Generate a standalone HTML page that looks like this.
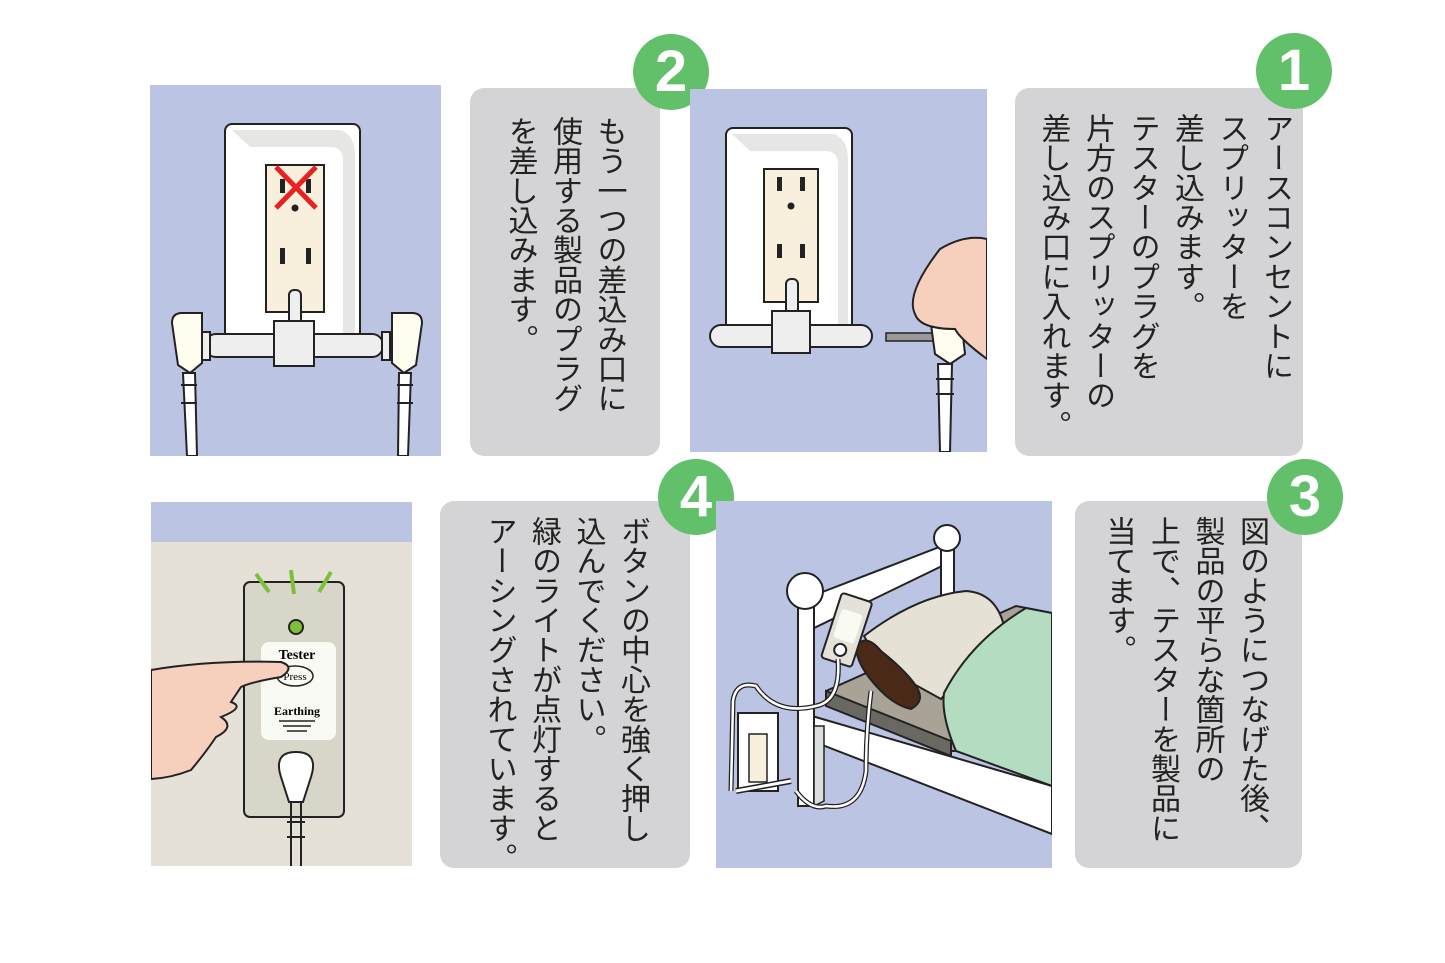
<!DOCTYPE html>
<html><head><meta charset="utf-8"><style>
body{margin:0;width:1445px;height:963px;background:#fff;position:relative;overflow:hidden;font-family:"Liberation Sans","Noto Sans CJK JP",sans-serif}
.box{position:absolute;background:#d4d4d6;border-radius:14px}
.t{position:absolute;writing-mode:vertical-rl;font-size:30px;line-height:44.5px;color:#222;white-space:nowrap;letter-spacing:-0.3px}
.c{position:absolute;width:76px;height:76px;border-radius:50%;background:#62bf6a;color:#fff;font:bold 58px/76px "Liberation Sans",sans-serif;text-align:center}
svg{position:absolute}
</style></head><body>

<!-- Panel 2 image (top-left) -->
<svg style="left:150px;top:85px" width="291" height="371" viewBox="0 0 291 371">
<rect width="291" height="371" fill="#bcc4e4"/>
<rect x="75" y="39" width="135" height="215" rx="7" fill="#fff" stroke="#222" stroke-width="2"/>
<path d="M82 45 L190 45 Q205 50 205 70 L205 250 L193 250 L193 75 Q193 62 180 62 L100 62Z" fill="#e6e6e4"/>
<rect x="116" y="80" width="58" height="147" fill="#f8f0dd" stroke="#222" stroke-width="2"/>
<rect x="130" y="94" width="5" height="14" fill="#222"/><rect x="156" y="94" width="5" height="14" fill="#222"/>
<circle cx="145" cy="123" r="3.5" fill="#222"/>
<rect x="130" y="163" width="5" height="16" fill="#222"/><rect x="156" y="163" width="5" height="16" fill="#222"/>
<path d="M126 82 L166 123 M166 82 L126 123" stroke="#e82020" stroke-width="5"/>
<rect x="139" y="205" width="12" height="35" rx="5" fill="#eee" stroke="#222" stroke-width="2"/>
<rect x="55" y="249" width="178" height="23" rx="11" fill="#eee" stroke="#222" stroke-width="2"/>
<rect x="124" y="236" width="40" height="45" fill="#eee" stroke="#222" stroke-width="2"/>
<rect x="52" y="247" width="8" height="28" fill="#eee" stroke="#222" stroke-width="2"/>
<rect x="232" y="247" width="8" height="28" fill="#eee" stroke="#222" stroke-width="2"/>
<path d="M22 238 Q22 228 32 228 L52 228 L52 278 L40 288 L28 280Z" fill="#fffdf0" stroke="#222" stroke-width="2"/>
<path d="M242 228 L262 228 Q272 228 272 238 L266 280 L254 288 L242 278Z" fill="#fffdf0" stroke="#222" stroke-width="2"/>
<path d="M33 288 L45 288 L47 371 L37 371Z M249 288 L261 288 L258 371 L248 371Z" fill="#fff" stroke="#222" stroke-width="2"/>
<path d="M31 300 H47 M31 318 H47 M247 300 H263 M247 318 H263" stroke="#222" stroke-width="2"/>
</svg>

<div class="box" style="left:470px;top:88px;width:190px;height:368px"></div>
<div class="t" style="left:497px;top:116px;height:340px">もう一つの差込み口に<br>使用する製品のプラグ<br>を差し込みます。</div>
<div class="c" style="left:633px;top:34px">2</div>

<!-- Panel 1 image -->
<svg style="left:690px;top:89px" width="297" height="363" viewBox="0 0 297 363">
<rect width="297" height="363" fill="#bcc4e4"/>
<rect x="36" y="39" width="126" height="215" rx="7" fill="#fff" stroke="#222" stroke-width="2"/>
<path d="M42 45 L145 45 Q158 52 158 70 L158 250 L148 250 L148 75 Q148 62 135 62 L60 62Z" fill="#e6e6e4"/>
<rect x="74" y="80" width="54" height="133" fill="#f8f0dd" stroke="#222" stroke-width="2"/>
<rect x="87" y="88" width="5" height="14" fill="#222"/><rect x="110" y="88" width="5" height="14" fill="#222"/>
<circle cx="101" cy="117" r="3.5" fill="#222"/>
<rect x="87" y="155" width="5" height="14" fill="#222"/><rect x="110" y="155" width="5" height="14" fill="#222"/>
<rect x="96" y="190" width="12" height="35" rx="5" fill="#eee" stroke="#222" stroke-width="2"/>
<rect x="20" y="236" width="162" height="22" rx="11" fill="#eee" stroke="#222" stroke-width="2"/>
<rect x="82" y="222" width="38" height="42" fill="#eee" stroke="#222" stroke-width="2"/>
<rect x="196" y="244" width="50" height="8" fill="#999" stroke="#222" stroke-width="1.5"/>
<path d="M240 228 L270 220 L275 265 L260 275 L245 265Z" fill="#fffdf0" stroke="#222" stroke-width="2"/>
<path d="M225 225 Q215 205 250 160 Q275 145 297 150 L297 270 Q270 250 265 240 Q230 240 225 225Z" fill="#f6cfbd" stroke="#222" stroke-width="2"/>
<path d="M248 275 L262 275 L260 363 L250 363Z" fill="#fff" stroke="#222" stroke-width="2"/>
<path d="M246 290 H264 M246 305 H264" stroke="#222" stroke-width="2"/>
</svg>

<div class="box" style="left:1015px;top:88px;width:288px;height:368px"></div>
<div class="t" style="left:1030px;top:113px;height:340px">アースコンセントに<br>スプリッターを<br>差し込みます。<br>テスターのプラグを<br>片方のスプリッターの<br>差し込み口に入れます。</div>
<div class="c" style="left:1256px;top:33px">1</div>

<!-- Panel 4 image -->
<svg style="left:151px;top:502px" width="261" height="364" viewBox="0 0 261 364">
<rect width="261" height="364" fill="#e5e1d6"/>
<rect width="261" height="40" fill="#bcc4e4"/>
<rect x="93" y="80" width="100" height="235" rx="6" fill="#d8d6c8" stroke="#222" stroke-width="2"/>
<path d="M105 72 L118 90 M140 68 L143 92 M180 70 L168 90" stroke="#7cc03a" stroke-width="4"/>
<circle cx="145" cy="125" r="7" fill="#7cc03a" stroke="#222" stroke-width="2"/>
<rect x="110" y="140" width="75" height="98" rx="8" fill="#fafaf4"/>
<text x="146" y="157" font-family="Liberation Serif,serif" font-size="14" text-anchor="middle" font-weight="bold">Tester</text>
<ellipse cx="144" cy="174" rx="18" ry="10" fill="none" stroke="#222" stroke-width="1.5"/>
<text x="144" y="178" font-family="Liberation Serif,serif" font-size="11" text-anchor="middle">Press</text>
<text x="146" y="213" font-family="Liberation Serif,serif" font-size="12" text-anchor="middle" font-weight="bold">Earthing</text>
<path d="M128 219 H164 M132 224 H160 M136 229 H156" stroke="#222" stroke-width="1.5"/>
<path d="M130 275 Q122 250 145 250 Q168 250 160 275 L152 300 L138 300Z" fill="#fff" stroke="#222" stroke-width="2"/>
<path d="M140 300 L140 364 M150 300 L150 364 M136 320 H154 M136 335 H154" stroke="#222" stroke-width="2"/>
<path d="M0 168 Q60 158 130 160 Q145 165 130 175 Q100 180 90 185 L80 200 Q95 205 70 215 Q85 225 65 235 Q55 250 40 268 Q20 276 0 277Z" fill="#f6cfbd" stroke="#222" stroke-width="2"/>
</svg>

<div class="box" style="left:440px;top:501px;width:250px;height:367px"></div>
<div class="t" style="left:476px;top:516px;height:345px">ボタンの中心を強く押し<br>込んでください。<br>緑のライトが点灯すると<br>アーシングされています。</div>
<div class="c" style="left:658px;top:459px">4</div>

<!-- Panel 3 image -->
<svg style="left:716px;top:501px" width="336" height="367" viewBox="0 0 336 367">
<rect width="336" height="367" fill="#bcc4e4"/>
<!-- headboard -->
<path d="M96 95 L226 45 L226 65 L96 128Z" fill="#fff" stroke="#222" stroke-width="2"/>
<rect x="225" y="40" width="13" height="60" fill="#fff" stroke="#222" stroke-width="2"/>
<circle cx="231" cy="37" r="13" fill="#fff" stroke="#222" stroke-width="2"/>
<!-- mattress -->
<path d="M110 190 L300 105 L336 112 L336 250 L235 250 L110 200Z" fill="#a8a297" stroke="#222" stroke-width="2"/>
<path d="M110 190 L235 240 L235 255 L110 205Z" fill="#6a6863" stroke="#222" stroke-width="2"/>
<!-- bed side -->
<path d="M96 215 L336 285 L336 333 L96 240Z" fill="#fff" stroke="#222" stroke-width="2"/>
<!-- pillow -->
<path d="M148 135 Q200 95 250 90 Q280 92 288 125 L225 198 L165 165Z" fill="#e6e1d5" stroke="#222" stroke-width="2"/>
<!-- brown pad -->
<path d="M140 145 Q150 132 165 150 Q190 170 200 185 Q210 200 195 208 Q180 205 165 190 Q140 165 140 145Z" fill="#4a2a16" stroke="#222" stroke-width="2"/>
<!-- blanket -->
<path d="M310 107 L336 112 L336 285 L240 250 Q225 215 228 192 Q255 140 310 107Z" fill="#b3dcc0" stroke="#222" stroke-width="2"/>
<!-- left post -->
<rect x="82" y="100" width="16" height="205" fill="#fff" stroke="#222" stroke-width="2"/>
<path d="M98 225 L108 225 L108 300 L98 305Z" fill="#ddd" stroke="#222" stroke-width="1.5"/>
<circle cx="89" cy="90" r="18" fill="#fff" stroke="#222" stroke-width="2"/>
<!-- tester -->
<g transform="rotate(18 131 128)">
<rect x="115" y="95" width="32" height="68" rx="3" fill="#e4e2d8" stroke="#222" stroke-width="2"/>
<circle cx="131" cy="150" r="6" fill="#fff" stroke="#222" stroke-width="2"/>
<rect x="120" y="110" width="22" height="30" rx="3" fill="#fafaf4"/>
</g>
<!-- outlet -->
<rect x="22" y="212" width="40" height="78" fill="#fff" stroke="#222" stroke-width="2"/>
<rect x="33" y="233" width="18" height="48" fill="#f8f0dd" stroke="#222" stroke-width="1.5"/>
<path d="M20 290 L75 280" stroke="#222" stroke-width="6"/><path d="M20 290 L75 280" stroke="#fff" stroke-width="3"/>
<!-- cables -->
<path d="M122 158 Q125 200 100 205 Q60 215 40 185 Q20 180 17 200 L15 290 M155 190 Q150 230 150 270 Q145 310 110 305 Q95 310 80 290" fill="none" stroke="#222" stroke-width="5"/>
<path d="M122 158 Q125 200 100 205 Q60 215 40 185 Q20 180 17 200 L15 290 M155 190 Q150 230 150 270 Q145 310 110 305 Q95 310 80 290" fill="none" stroke="#fff" stroke-width="2.5"/>
</svg>

<div class="box" style="left:1075px;top:501px;width:227px;height:367px"></div>
<div class="t" style="left:1095px;top:516px;height:345px">図のようにつなげた後、<br>製品の平らな箇所の<br>上で、テスターを製品に<br>当てます。</div>
<div class="c" style="left:1267px;top:459px">3</div>

</body></html>
